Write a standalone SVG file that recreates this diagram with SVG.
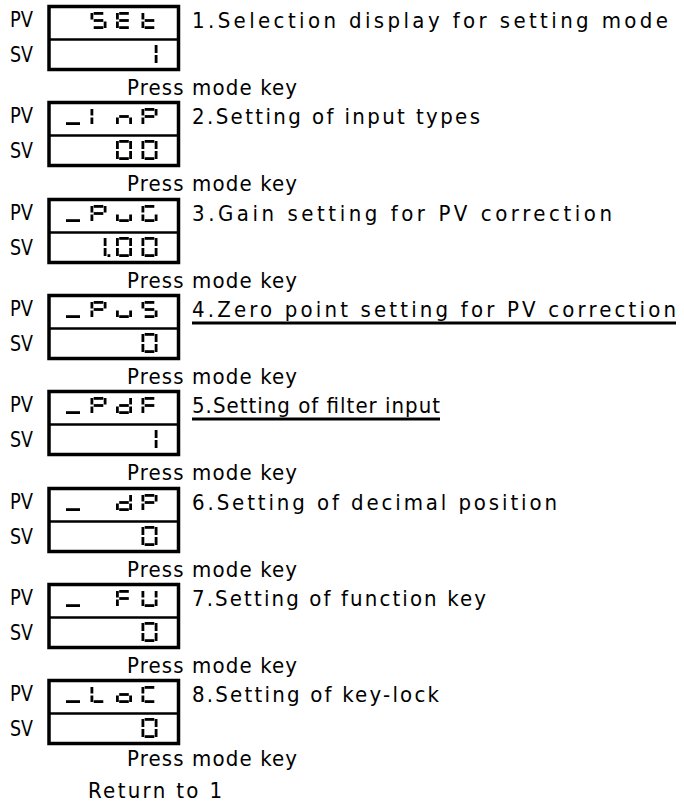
<svg xmlns="http://www.w3.org/2000/svg" xmlns:xlink="http://www.w3.org/1999/xlink" width="684" height="805" viewBox="0 0 684 805">
<style>
text{font-family:"DejaVu Sans Condensed","DejaVu Sans","Liberation Sans",sans-serif;font-size:22px;fill:#000}
.lbl{font-size:21px}
.frame{fill:#fff;stroke:#000;stroke-width:3.5}
.div{stroke:#000;stroke-width:2.5}
.ul{stroke:#000;stroke-width:3}
.s{fill:#000}
</style>
<defs>
<!-- PV segments (16x17) -->
<rect id="pa" class="s" x="3.2" y="0" width="9.6" height="2.8"/>
<rect id="pg" class="s" x="3.2" y="7.1" width="9.6" height="2.8"/>
<rect id="pd" class="s" x="3.2" y="14.2" width="9.6" height="2.8"/>
<rect id="pf" class="s" x="0" y="1" width="2.8" height="6.5"/>
<rect id="pe" class="s" x="0" y="9.5" width="2.8" height="6.5"/>
<rect id="pb" class="s" x="13.2" y="1" width="2.8" height="6.5"/>
<rect id="pc" class="s" x="13.2" y="9.5" width="2.8" height="6.5"/>
<rect id="pus" class="s" x="1" y="14.2" width="14" height="2.8"/>
<g id="cS"><use href="#pa"/><use href="#pf"/><use href="#pg"/><use href="#pc"/><use href="#pd"/></g>
<g id="cE"><use href="#pa"/><use href="#pf"/><use href="#pg"/><use href="#pe"/><use href="#pd"/></g>
<g id="ct"><use href="#pf"/><use href="#pg"/><use href="#pe"/><use href="#pd"/></g>
<g id="cI"><use href="#pf"/><use href="#pe"/></g>
<g id="cn"><use href="#pg"/><use href="#pe"/><use href="#pc"/></g>
<g id="cP"><use href="#pa"/><use href="#pf"/><use href="#pb"/><use href="#pg"/><use href="#pe"/></g>
<g id="cu"><use href="#pe"/><use href="#pd"/><use href="#pc"/></g>
<g id="cG"><use href="#pa"/><use href="#pf"/><use href="#pe"/><use href="#pd"/><use href="#pc"/></g>
<g id="cd"><use href="#pb"/><use href="#pc"/><use href="#pg"/><use href="#pe"/><use href="#pd"/></g>
<g id="cF"><use href="#pa"/><use href="#pf"/><use href="#pg"/><use href="#pe"/></g>
<g id="cU"><use href="#pf"/><use href="#pe"/><use href="#pd"/><use href="#pb"/><use href="#pc"/></g>
<g id="cL"><use href="#pf"/><use href="#pe"/><use href="#pd"/></g>
<g id="co"><use href="#pg"/><use href="#pe"/><use href="#pd"/><use href="#pc"/></g>
<g id="cC"><use href="#pa"/><use href="#pf"/><use href="#pe"/><use href="#pd"/></g>
<!-- SV segments (16x20) -->
<rect id="sa" class="s" x="3.2" y="0" width="9.6" height="2.8"/>
<rect id="sd" class="s" x="3.2" y="17.2" width="9.6" height="2.8"/>
<rect id="sf" class="s" x="0" y="1" width="2.8" height="8"/>
<rect id="se" class="s" x="0" y="11" width="2.8" height="8"/>
<rect id="sb" class="s" x="13.2" y="1" width="2.8" height="8"/>
<rect id="sc" class="s" x="13.2" y="11" width="2.8" height="8"/>
<g id="d0"><use href="#sa"/><use href="#sb"/><use href="#sc"/><use href="#sd"/><use href="#se"/><use href="#sf"/></g>
<g id="d1"><use href="#sb"/><use href="#sc"/></g>
<rect id="dp" class="s" x="17" y="17.2" width="2.8" height="2.8"/>
</defs>

<g id="step1" transform="translate(0,5)">
<rect class="frame" x="49" y="1.5" width="129.5" height="63"/>
<line class="div" x1="49" y1="34.5" x2="178.5" y2="34.5"/>
<text class="lbl" x="10" y="22" textLength="23" lengthAdjust="spacingAndGlyphs">PV</text><text class="lbl" x="10" y="57" textLength="23" lengthAdjust="spacingAndGlyphs">SV</text>
<use href="#cS" x="90.5" y="7"/><use href="#cE" x="116" y="7"/><use href="#ct" x="141.5" y="7"/>
<use href="#d1" x="141.5" y="39"/>
<text x="192" y="23" textLength="476" lengthAdjust="spacing">1.Selection display for setting mode</text>
</g>

<g id="step2" transform="translate(0,101)">
<rect class="frame" x="49" y="1.5" width="129.5" height="63"/>
<line class="div" x1="49" y1="34.5" x2="178.5" y2="34.5"/>
<text class="lbl" x="10" y="22" textLength="23" lengthAdjust="spacingAndGlyphs">PV</text><text class="lbl" x="10" y="57" textLength="23" lengthAdjust="spacingAndGlyphs">SV</text>
<use href="#pus" x="65" y="7"/><use href="#cI" x="90.5" y="7"/><use href="#cn" x="116" y="7"/><use href="#cP" x="141.5" y="7"/>
<use href="#d0" x="116" y="39"/><use href="#d0" x="141.5" y="39"/>
<text x="192" y="23" textLength="288" lengthAdjust="spacing">2.Setting of input types</text>
</g>

<g id="step3" transform="translate(0,198)">
<rect class="frame" x="49" y="1.5" width="129.5" height="63"/>
<line class="div" x1="49" y1="34.5" x2="178.5" y2="34.5"/>
<text class="lbl" x="10" y="22" textLength="23" lengthAdjust="spacingAndGlyphs">PV</text><text class="lbl" x="10" y="57" textLength="23" lengthAdjust="spacingAndGlyphs">SV</text>
<use href="#pus" x="65" y="7"/><use href="#cP" x="90.5" y="7"/><use href="#cu" x="116" y="7"/><use href="#cG" x="141.5" y="7"/>
<use href="#d1" x="90.5" y="39"/><use href="#dp" x="90.5" y="39"/><use href="#d0" x="116" y="39"/><use href="#d0" x="141.5" y="39"/>
<text x="192" y="23" textLength="420" lengthAdjust="spacing">3.Gain setting for PV correction</text>
</g>

<g id="step4" transform="translate(0,294)">
<rect class="frame" x="49" y="1.5" width="129.5" height="63"/>
<line class="div" x1="49" y1="34.5" x2="178.5" y2="34.5"/>
<text class="lbl" x="10" y="22" textLength="23" lengthAdjust="spacingAndGlyphs">PV</text><text class="lbl" x="10" y="57" textLength="23" lengthAdjust="spacingAndGlyphs">SV</text>
<use href="#pus" x="65" y="7"/><use href="#cP" x="90.5" y="7"/><use href="#cu" x="116" y="7"/><use href="#cS" x="141.5" y="7"/>
<use href="#d0" x="141.5" y="39"/>
<text x="192" y="23" textLength="484" lengthAdjust="spacing">4.Zero point setting for PV correction</text>
<line class="ul" x1="192" y1="29" x2="676" y2="29"/>
</g>

<g id="step5" transform="translate(0,390)">
<rect class="frame" x="49" y="1.5" width="129.5" height="63"/>
<line class="div" x1="49" y1="34.5" x2="178.5" y2="34.5"/>
<text class="lbl" x="10" y="22" textLength="23" lengthAdjust="spacingAndGlyphs">PV</text><text class="lbl" x="10" y="57" textLength="23" lengthAdjust="spacingAndGlyphs">SV</text>
<use href="#pus" x="65" y="7"/><use href="#cP" x="90.5" y="7"/><use href="#cd" x="116" y="7"/><use href="#cF" x="141.5" y="7"/>
<use href="#d1" x="141.5" y="39"/>
<text x="192" y="23" textLength="248" lengthAdjust="spacing">5.Setting of filter input</text>
<line class="ul" x1="192" y1="29" x2="440" y2="29"/>
</g>

<g id="step6" transform="translate(0,487)">
<rect class="frame" x="49" y="1.5" width="129.5" height="63"/>
<line class="div" x1="49" y1="34.5" x2="178.5" y2="34.5"/>
<text class="lbl" x="10" y="22" textLength="23" lengthAdjust="spacingAndGlyphs">PV</text><text class="lbl" x="10" y="57" textLength="23" lengthAdjust="spacingAndGlyphs">SV</text>
<use href="#pus" x="65" y="7"/><use href="#cd" x="116" y="7"/><use href="#cP" x="141.5" y="7"/>
<use href="#d0" x="141.5" y="39"/>
<text x="192" y="23" textLength="365" lengthAdjust="spacing">6.Setting of decimal position</text>
</g>

<g id="step7" transform="translate(0,583)">
<rect class="frame" x="49" y="1.5" width="129.5" height="63"/>
<line class="div" x1="49" y1="34.5" x2="178.5" y2="34.5"/>
<text class="lbl" x="10" y="22" textLength="23" lengthAdjust="spacingAndGlyphs">PV</text><text class="lbl" x="10" y="57" textLength="23" lengthAdjust="spacingAndGlyphs">SV</text>
<use href="#pus" x="65" y="7"/><use href="#cF" x="116" y="7"/><use href="#cU" x="141.5" y="7"/>
<use href="#d0" x="141.5" y="39"/>
<text x="192" y="23" textLength="294" lengthAdjust="spacing">7.Setting of function key</text>
</g>

<g id="step8" transform="translate(0,679)">
<rect class="frame" x="49" y="1.5" width="129.5" height="63"/>
<line class="div" x1="49" y1="34.5" x2="178.5" y2="34.5"/>
<text class="lbl" x="10" y="22" textLength="23" lengthAdjust="spacingAndGlyphs">PV</text><text class="lbl" x="10" y="57" textLength="23" lengthAdjust="spacingAndGlyphs">SV</text>
<use href="#pus" x="65" y="7"/><use href="#cL" x="90.5" y="7"/><use href="#co" x="116" y="7"/><use href="#cC" x="141.5" y="7"/>
<use href="#d0" x="141.5" y="39"/>
<text x="192" y="23" textLength="247" lengthAdjust="spacing">8.Setting of key-lock</text>
</g>

<g id="connectors">
<text x="127" y="95" textLength="170" lengthAdjust="spacing">Press mode key</text>
<text x="127" y="191" textLength="170" lengthAdjust="spacing">Press mode key</text>
<text x="127" y="288" textLength="170" lengthAdjust="spacing">Press mode key</text>
<text x="127" y="384" textLength="170" lengthAdjust="spacing">Press mode key</text>
<text x="127" y="480" textLength="170" lengthAdjust="spacing">Press mode key</text>
<text x="127" y="577" textLength="170" lengthAdjust="spacing">Press mode key</text>
<text x="127" y="673" textLength="170" lengthAdjust="spacing">Press mode key</text>
<text x="127" y="766" textLength="170" lengthAdjust="spacing">Press mode key</text>
<text x="88" y="798" textLength="134" lengthAdjust="spacing">Return to 1</text>
</g>
</svg>
